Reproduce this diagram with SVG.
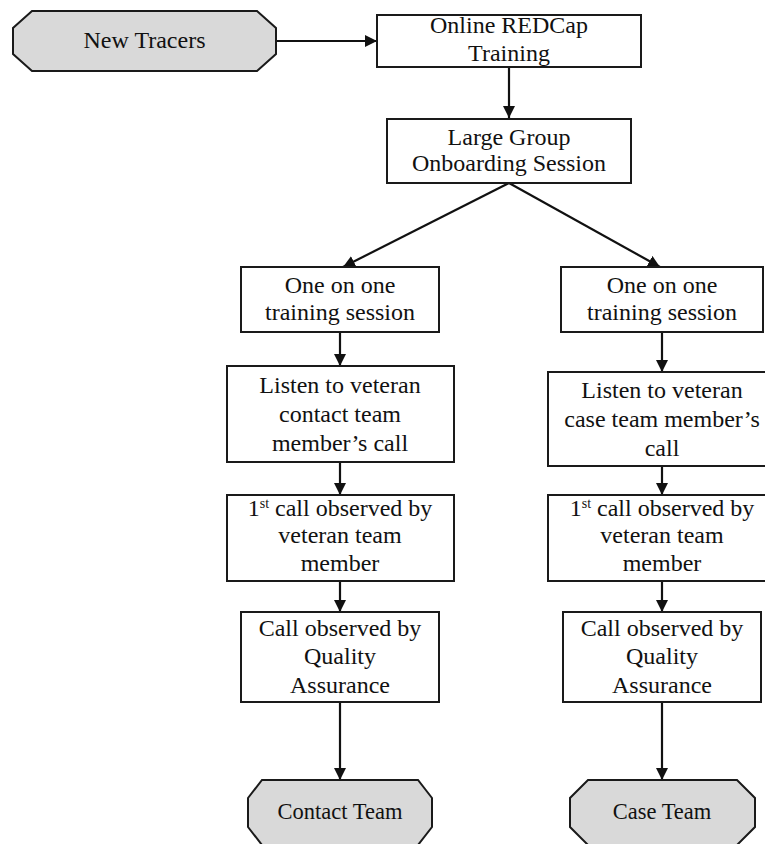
<svg xmlns="http://www.w3.org/2000/svg" width="765" height="844" viewBox="0 0 765 844">
<style>
  .box { fill: #ffffff; stroke: #1a1a1a; stroke-width: 2; }
  .term { fill: #d9d9d9; stroke: #1a1a1a; stroke-width: 2; }
  .t { font-family: "Liberation Serif", "Times New Roman", serif; font-size: 24px; fill: #111; text-anchor: middle; }
  .tt { font-family: "Liberation Serif", "Times New Roman", serif; font-size: 22.5px; fill: #111; text-anchor: middle; }
  .sup { font-size: 14px; }
  .conn { stroke: #111; stroke-width: 2.2; fill: none; marker-end: url(#arr); }
</style>
<defs>
  <marker id="arr" markerUnits="userSpaceOnUse" markerWidth="12" markerHeight="12" refX="12" refY="6" orient="auto">
    <path d="M0,0 L12,6 L0,12 z" fill="#111"/>
  </marker>
</defs>
<rect width="765" height="844" fill="#ffffff"/>

<g id="connectors">
  <line class="conn" x1="276" y1="41" x2="377" y2="41"/>
  <line class="conn" x1="509" y1="67" x2="509" y2="118"/>
  <line class="conn" x1="509" y1="183" x2="343" y2="267"/>
  <line class="conn" x1="509" y1="183" x2="660" y2="267"/>
  <line class="conn" x1="340" y1="332" x2="340" y2="366"/>
  <line class="conn" x1="662" y1="332" x2="662" y2="372"/>
  <line class="conn" x1="340" y1="462" x2="340" y2="495"/>
  <line class="conn" x1="662" y1="466" x2="662" y2="495"/>
  <line class="conn" x1="340" y1="581" x2="340" y2="612"/>
  <line class="conn" x1="662" y1="581" x2="662" y2="612"/>
  <line class="conn" x1="340" y1="702" x2="340" y2="780"/>
  <line class="conn" x1="662" y1="702" x2="662" y2="780"/>
</g>

<g id="new-tracers">
  <polygon class="term" points="32,11 257,11 276,28 276,54 257,71 32,71 13,54 13,28"/>
  <text class="t" x="144.5" y="48">New Tracers</text>
</g>

<g id="online-redcap">
  <rect class="box" x="377" y="15" width="264" height="52"/>
  <text class="t" x="509" y="33">Online REDCap</text>
  <text class="t" x="509" y="61">Training</text>
</g>

<g id="large-group">
  <rect class="box" x="387" y="119" width="244" height="64"/>
  <text class="t" x="509" y="145">Large Group</text>
  <text class="t" x="509" y="171">Onboarding Session</text>
</g>

<g id="one-on-one-left">
  <rect class="box" x="241" y="267" width="198" height="65"/>
  <text class="t" x="340" y="293">One on one</text>
  <text class="t" x="340" y="320">training session</text>
</g>

<g id="one-on-one-right">
  <rect class="box" x="561" y="267" width="202" height="65"/>
  <text class="t" x="662" y="293">One on one</text>
  <text class="t" x="662" y="320">training session</text>
</g>

<g id="listen-contact">
  <rect class="box" x="227" y="366" width="227" height="96"/>
  <text class="t" x="340" y="393">Listen to veteran</text>
  <text class="t" x="340" y="422">contact team</text>
  <text class="t" x="340" y="451">member’s call</text>
</g>

<g id="listen-case">
  <rect class="box" x="548" y="372" width="228" height="94"/>
  <text class="t" x="662" y="398">Listen to veteran</text>
  <text class="t" x="662" y="427">case team member’s</text>
  <text class="t" x="662" y="456">call</text>
</g>

<g id="first-call-left">
  <rect class="box" x="227" y="495" width="227" height="86"/>
  <text class="t" x="340" y="516">1<tspan class="sup" dy="-8">st</tspan><tspan dy="8"> call observed by</tspan></text>
  <text class="t" x="340" y="543">veteran team</text>
  <text class="t" x="340" y="571">member</text>
</g>

<g id="first-call-right">
  <rect class="box" x="548" y="495" width="228" height="86"/>
  <text class="t" x="662" y="516">1<tspan class="sup" dy="-8">st</tspan><tspan dy="8"> call observed by</tspan></text>
  <text class="t" x="662" y="543">veteran team</text>
  <text class="t" x="662" y="571">member</text>
</g>

<g id="qa-left">
  <rect class="box" x="241" y="612" width="198" height="90"/>
  <text class="t" x="340" y="636">Call observed by</text>
  <text class="t" x="340" y="664">Quality</text>
  <text class="t" x="340" y="693">Assurance</text>
</g>

<g id="qa-right">
  <rect class="box" x="563" y="612" width="198" height="90"/>
  <text class="t" x="662" y="636">Call observed by</text>
  <text class="t" x="662" y="664">Quality</text>
  <text class="t" x="662" y="693">Assurance</text>
</g>

<g id="contact-team">
  <polygon class="term" points="262,780 418,780 432,798 432,827 418,845 262,845 248,827 248,798"/>
  <text class="tt" x="340" y="819">Contact Team</text>
</g>

<g id="case-team">
  <polygon class="term" points="588,780 737,780 755,798 755,827 737,845 588,845 570,827 570,798"/>
  <text class="tt" x="662" y="819">Case Team</text>
</g>
</svg>
